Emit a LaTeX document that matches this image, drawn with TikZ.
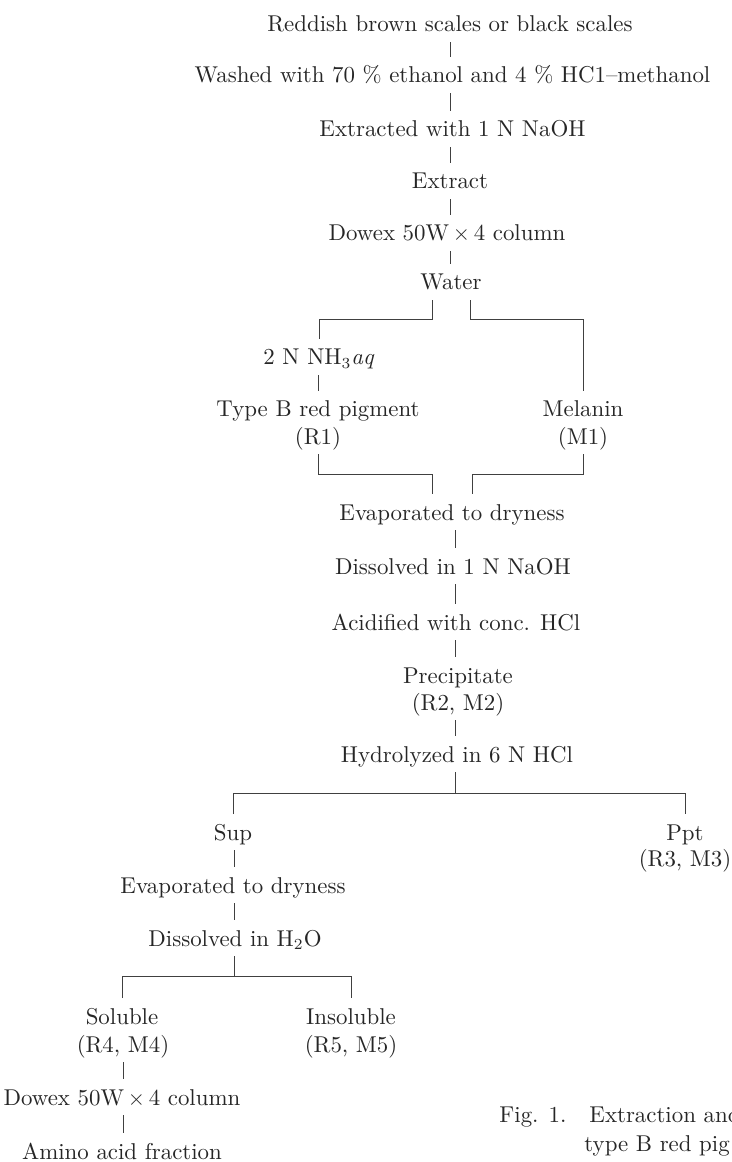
\documentclass[tikz,border=0pt]{standalone}
\usepackage{tikz}
\begin{document}
\begin{tikzpicture}[x=0.4545pt,y=-0.4545pt,
  lbl/.style={anchor=base, inner sep=0pt, outer xsep=0pt, outer ysep=2.3pt,
    text height=9.5pt, text depth=2.3pt, font=\fontsize{10.4}{12}\selectfont, text=black!85},
  captxt/.style={anchor=base west, inner sep=0pt, font=\fontsize{10.4}{12}\selectfont, text=black!85},
  conn/.style={draw=black!75, line width=0.42pt}]
\useasboundingbox (0,0) rectangle (731,1162);
\clip (0,0) rectangle (731,1162);
% main column
\node[lbl] (n1) at (450,32) {Reddish brown scales or black scales};
\node[lbl] (n2) at (452.5,83) {Washed with 70 \% ethanol and 4 \% HC1\textendash methanol};
\node[lbl] (n3) at (452.5,137) {Extracted with 1 N NaOH};
\node[lbl] (n4) at (450,189) {Extract};
\node[lbl] (n5) at (447,241) {Dowex 50W\,$\times$\,4 column};
\node[lbl] (n6) at (451,290) {Water};
\node[lbl] (nh) at (319,365) {2 N NH$_3$\textit{aq}};
\node[lbl] (tb) at (318,417) {Type B red pigment};
\node[lbl] (r1) at (318,444) {(R1)};
\node[lbl] (mel) at (583,417) {Melanin};
\node[lbl] (m1) at (583,444) {(M1)};
\node[lbl] (ev) at (452,520) {Evaporated to dryness};
\node[lbl] (di) at (453,574) {Dissolved in 1 N NaOH};
\node[lbl] (ac) at (456,630) {Acidified with conc. HCl};
\node[lbl] (pr) at (458,683) {Precipitate};
\node[lbl] (r2) at (458,710) {(R2, M2)};
\node[lbl] (hy) at (457,762) {Hydrolyzed in 6 N HCl};
\node[lbl] (sup) at (233,840) {Sup};
\node[lbl] (ppt) at (685,840) {Ppt};
\node[lbl] (r3) at (685,866) {(R3, M3)};
\node[lbl] (ev2) at (233,893) {Evaporated to dryness};
\node[lbl] (dh) at (235,946) {Dissolved in H$_2$O};
\node[lbl] (sol) at (122,1024) {Soluble};
\node[lbl] (r4) at (123,1052) {(R4, M4)};
\node[lbl] (ins) at (351,1024) {Insoluble};
\node[lbl] (r5) at (351,1052) {(R5, M5)};
\node[lbl] (dw2) at (122,1105) {Dowex 50W\,$\times$\,4 column};
\node[lbl] (am) at (122,1159) {Amino acid fraction};
% caption
\node[captxt] (fig) at (499,1122) {Fig. 1.};
\node[captxt] (capa) at (589,1122) {Extraction and};
\node[captxt] (capb) at (584,1151) {type B red pig};
% spine coordinates
\coordinate (s1) at (450,0);
\coordinate (s2) at (455,0);
\coordinate (s3) at (234,0);
\coordinate (s4) at (123,0);
\draw[conn] (n1.south -| s1) -- (n2.north -| s1);
\draw[conn] (n2.south -| s1) -- (n3.north -| s1);
\draw[conn] (n3.south -| s1) -- (n4.north -| s1);
\draw[conn] (n4.south -| s1) -- (n5.north -| s1);
\draw[conn] (n5.south -| s1) -- (n6.north -| s1);
% water branch
\coordinate (wl) at (432,319);
\coordinate (wr) at (470,319);
\draw[conn] (n6.south -| wl) -- (wl) -- (wl -| nh.north) -- (nh.north);
\draw[conn] (n6.south -| wr) -- (wr) -- (wr -| mel.north) -- (mel.north);
\draw[conn] (nh.south -| tb.north) -- (tb.north);
% merge
\coordinate (ml) at (432,474);
\coordinate (mr) at (472,474);
\draw[conn] (r1.south) -- (r1.south |- ml) -- (ml) -- (ev.north -| ml);
\draw[conn] (m1.south) -- (m1.south |- mr) -- (mr) -- (ev.north -| mr);
\draw[conn] (ev.south -| s2) -- (di.north -| s2);
\draw[conn] (di.south -| s2) -- (ac.north -| s2);
\draw[conn] (ac.south -| s2) -- (pr.north -| s2);
\draw[conn] (r2.south -| s2) -- (hy.north -| s2);
% hydrolysis branch
\coordinate (hh) at (455,793);
\draw[conn] (hy.south -| s2) -- (hh);
\draw[conn] (sup.north) -- (sup.north |- hh) -- (ppt.north |- hh) -- (ppt.north);
\draw[conn] (sup.south -| s3) -- (ev2.north -| s3);
\draw[conn] (ev2.south -| s3) -- (dh.north -| s3);
% H2O branch
\coordinate (dd) at (234,976);
\draw[conn] (dh.south -| s3) -- (dd);
\draw[conn] (sol.north) -- (sol.north |- dd) -- (ins.north |- dd) -- (ins.north);
\draw[conn] (r4.south -| s4) -- (dw2.north -| s4);
\draw[conn] (dw2.south -| s4) -- (am.north -| s4);
\end{tikzpicture}
\end{document}
